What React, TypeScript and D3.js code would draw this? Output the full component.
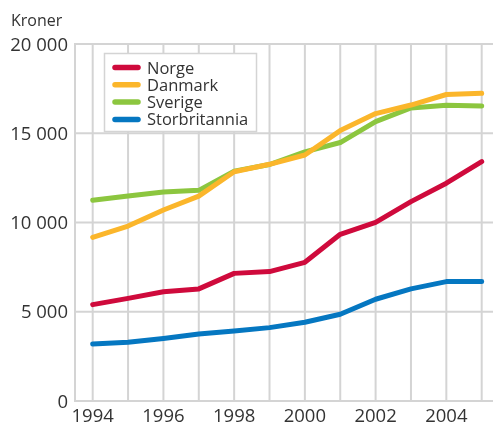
import React, { useEffect, useRef } from "react"
import { select, scaleLinear, line } from "d3"

const years = [1994, 1995, 1996, 1997, 1998, 1999, 2000, 2001, 2002, 2003, 2004, 2005]
const norge = [5400, 5750, 6120, 6280, 7150, 7250, 7770, 9340, 10010, 11170, 12200, 13410]
const danmark = [9170, 9800, 10700, 11480, 12840, 13260, 13780, 15150, 16100, 16580, 17170, 17240]
const sverige = [11250, 11480, 11710, 11800, 12880, 13250, 13960, 14480, 15650, 16420, 16570, 16520]
const storbritannia = [3190, 3290, 3500, 3750, 3920, 4110, 4410, 4860, 5700, 6280, 6690, 6700]
const seriesNames = ["Norge", "Danmark", "Sverige", "Storbritannia"]
const seriesColors = ["#cf0a3c", "#fbb62b", "#8cc63f", "#0577c1"]
const yTicks = [0, 5000, 10000, 15000, 20000]
const xTickLabels = [1994, 1996, 1998, 2000, 2002, 2004]

const fmt = (v: number) => (v >= 1000 ? `${Math.floor(v / 1000)} ${String(v % 1000).padStart(3, "0")}` : String(v))

const App = () => {
  const svgRef = useRef<SVGSVGElement>(null)

  useEffect(() => {
    const width = 493
    const left = 75
    const top = 44
    const bottom = 401
    const font = "'Open Sans', 'DejaVu Sans', sans-serif"
    const grid = "#d4d4d4"

    const svg = select(svgRef.current)
    svg.selectAll("*").remove()

    const x = scaleLinear().domain([1994, 2005]).range([92.7, 481.7])
    const y = scaleLinear().domain([0, 20000]).range([bottom, top])

    const g = svg.append("g")
    // gridlines
    g.selectAll(".hgrid")
      .data(yTicks)
      .join("line")
      .attr("x1", left)
      .attr("x2", width)
      .attr("y1", d => y(d))
      .attr("y2", d => y(d))
      .attr("stroke", grid)
      .attr("stroke-width", 2)
    g.selectAll(".vgrid")
      .data(years)
      .join("line")
      .attr("x1", d => x(d))
      .attr("x2", d => x(d))
      .attr("y1", top)
      .attr("y2", bottom)
      .attr("stroke", grid)
      .attr("stroke-width", 2)
    g.append("line")
      .attr("x1", left).attr("x2", left)
      .attr("y1", top - 1).attr("y2", bottom + 1)
      .attr("stroke", grid).attr("stroke-width", 2)

    svg.selectAll(".ylab")
      .data(yTicks)
      .join("text")
      .attr("x", 68)
      .attr("y", d => y(d) + 6.5)
      .attr("text-anchor", "end")
      .attr("font-family", font)
      .attr("font-size", 18.5)
      .attr("fill", "#333")
      .text(d => fmt(d))

    svg.selectAll(".xlab")
      .data(xTickLabels)
      .join("text")
      .attr("x", d => x(d))
      .attr("y", 421.5)
      .attr("text-anchor", "middle")
      .attr("font-family", font)
      .attr("font-size", 18.5)
      .attr("fill", "#333")
      .text(d => d)

    svg.append("text")
      .attr("x", 11)
      .attr("y", 26)
      .attr("font-family", font)
      .attr("font-size", 16)
      .attr("fill", "#333")
      .text("Kroner")

    // legend
    const lg = svg.append("g")
    lg.append("rect")
      .attr("x", 104.5).attr("y", 53.5)
      .attr("width", 152).attr("height", 78)
      .attr("fill", "#fff")
      .attr("stroke", grid)
      .attr("stroke-width", 1.5)
    seriesNames.forEach((name, i) => {
      const ly = 67.5 + i * 17.3
      lg.append("line")
        .attr("x1", 115).attr("x2", 138)
        .attr("y1", ly).attr("y2", ly)
        .attr("stroke", seriesColors[i])
        .attr("stroke-width", 5.5)
        .attr("stroke-linecap", "round")
      lg.append("text")
        .attr("x", 147)
        .attr("y", ly + 6)
        .attr("font-family", font)
        .attr("font-size", 16.5)
        .attr("fill", "#333")
        .text(name)
    })

    const values = [norge, danmark, sverige, storbritannia]
    const myLine = line<number>()
      .x((_, i) => x(years[i]))
      .y(v => y(v))
    // draw blue first so red/orange sit on top
    const order = [3, 2, 1, 0]
    svg.selectAll(".series")
      .data(order)
      .join("path")
      .attr("d", i => myLine(values[i]))
      .attr("fill", "none")
      .attr("stroke", i => seriesColors[i])
      .attr("stroke-width", 5)
      .attr("stroke-linejoin", "round")
      .attr("stroke-linecap", "round")
  }, [])

  return (
    <div style={{ position: "fixed", left: 0, top: 0 }}>
      <svg ref={svgRef} width={493} height={424} />
    </div>
  )
}

export default App
